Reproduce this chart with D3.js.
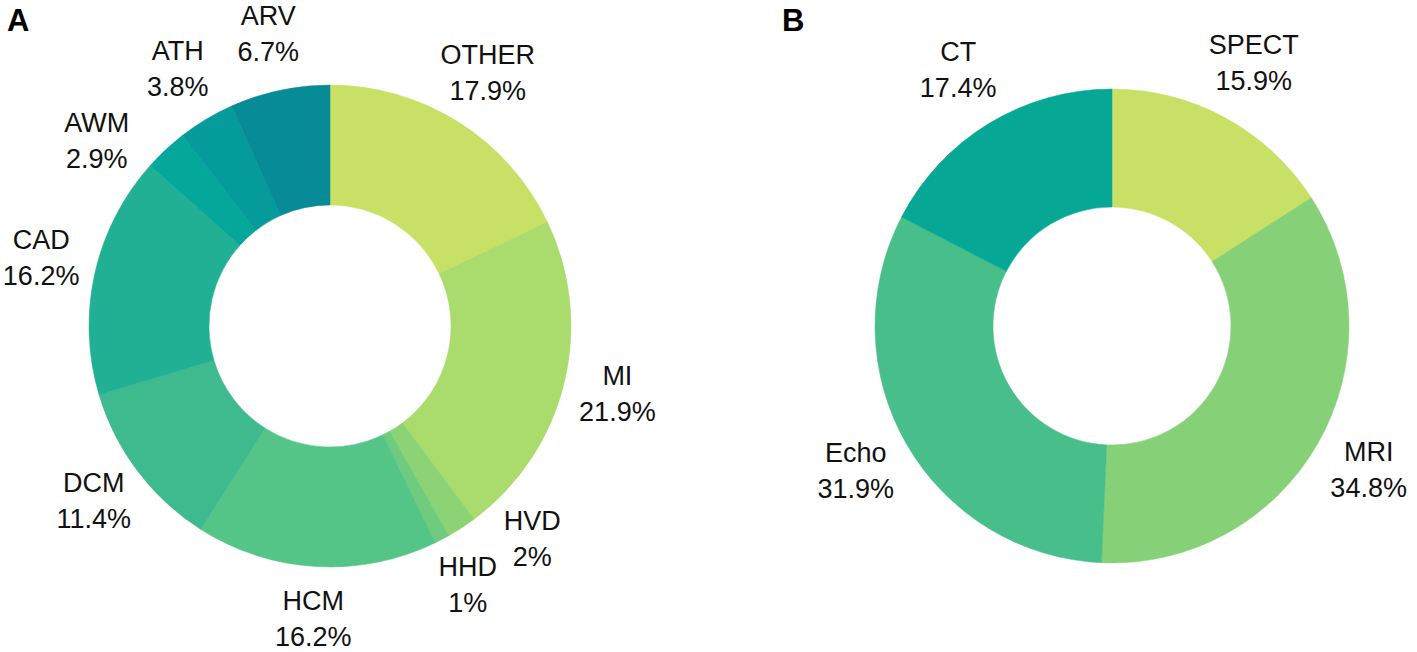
<html>
<head>
	<title>Donut charts</title>
	<style>
		body { margin: 0; background: #fff; }
		text { font-family: "Liberation Sans", Arial, sans-serif; }
	</style>
</head>
<body>
	<script src="https://cdnjs.cloudflare.com/ajax/libs/d3/7.8.5/d3.min.js"></script>
	<script type="text/javascript">
		// panel A: diseases
		var diseaseNames = ["OTHER", "MI", "HVD", "HHD", "HCM", "DCM", "CAD", "AWM", "ATH", "ARV"];
		var diseaseShare = [17.9, 21.9, 2, 1, 16.2, 11.4, 16.2, 2.9, 3.8, 6.7];
		var diseaseColors = ["#c9e066", "#a9dc6c", "#8bd375", "#6fcb7d", "#55c487", "#3eba8e", "#21b094", "#05a79a", "#059b9b", "#078b97"];
		var diseaseNudge = [0, 0, -10, 0, 0, 0, 0, -9, 0, 0]; // degrees, label spread

		// panel B: modalities
		var modalityNames = ["SPECT", "MRI", "Echo", "CT"];
		var modalityShare = [15.9, 34.8, 31.9, 17.4];
		var modalityColors = ["#c9e066", "#86d177", "#48bf8a", "#07a796"];
		var modalityNudge = [0, 0, 0, 0];

		var W = 1417, H = 652;
		var svg = d3.select("body").append("svg")
					.attr("width", W)
					.attr("height", H);

		function drawDonut(opt){
			var g = svg.append("g")
						.attr("transform", "translate(" + opt.cx + "," + opt.cy + ")");
			var data = opt.names.map(function(n, i){
				return {name: n, value: opt.values[i], color: opt.colors[i], nudge: opt.nudge[i]};
			});
			var pie = d3.pie().sort(null).value(function(d){ return d.value; });
			var arc = d3.arc().innerRadius(opt.inner).outerRadius(opt.outer);
			var arcs = pie(data);

			g.selectAll("path.slice")
				.data(arcs)
				.enter().append("path")
				.attr("class", "slice")
				.attr("d", arc)
				.style("fill", function(d){ return d.data.color; })
				.style("stroke", function(d){ return d.data.color; })
				.style("stroke-width", "0.5px");

			var lab = g.selectAll("g.lab")
						.data(arcs)
						.enter().append("g")
						.attr("class", "lab")
						.attr("transform", function(d){
							var a = (d.startAngle + d.endAngle) / 2 + d.data.nudge * Math.PI / 180;
							return "translate(" + (opt.labelR * Math.sin(a)) + "," + (-opt.labelR * Math.cos(a)) + ")";
						});
			lab.append("text")
				.attr("text-anchor", "middle")
				.attr("y", -12)
				.style("font-size", "27px")
				.style("fill", "#111")
				.text(function(d){ return d.data.name; });
			lab.append("text")
				.attr("text-anchor", "middle")
				.attr("y", 24)
				.style("font-size", "27px")
				.style("fill", "#111")
				.text(function(d){ return d.data.value + "%"; });

			svg.append("text")
				.attr("x", opt.tagX)
				.attr("y", 31)
				.style("font-size", "31px")
				.style("font-weight", "bold")
				.text(opt.tag);
		}

		drawDonut({names: diseaseNames, values: diseaseShare, colors: diseaseColors, nudge: diseaseNudge,
			cx: 330, cy: 326, outer: 241, inner: 121, labelR: 296, tag: "A", tagX: 7});
		drawDonut({names: modalityNames, values: modalityShare, colors: modalityColors, nudge: modalityNudge,
			cx: 1112, cy: 326, outer: 237, inner: 119, labelR: 296, tag: "B", tagX: 782});
	</script>
</body>
</html>
